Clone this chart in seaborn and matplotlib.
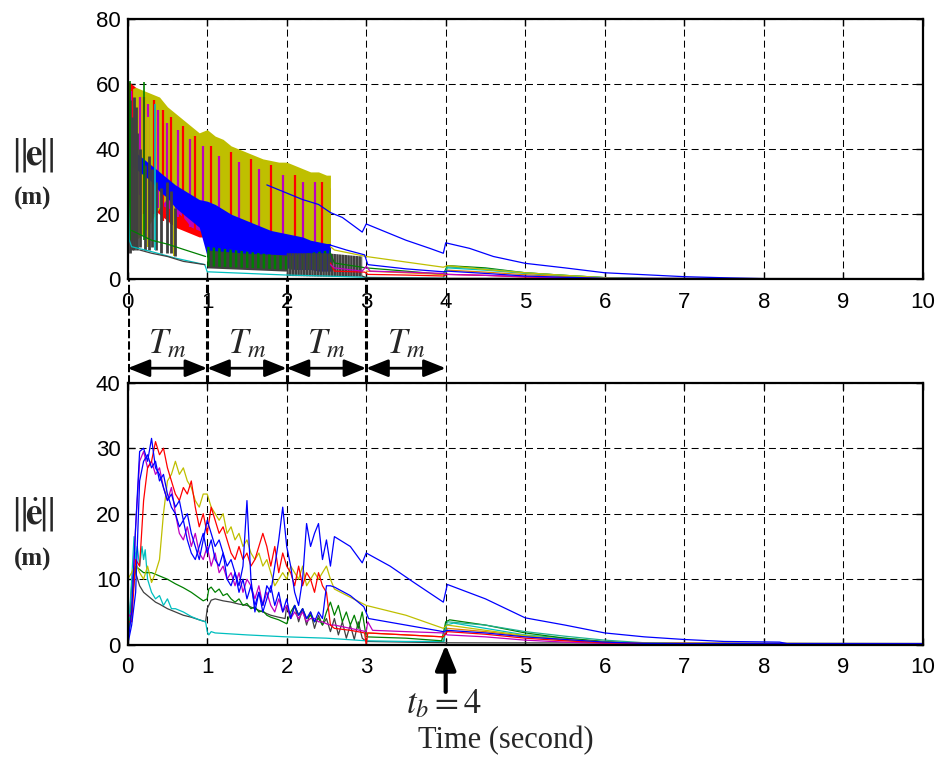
import numpy as np
import pandas as pd
import matplotlib
matplotlib.use("Agg")
import matplotlib.pyplot as plt
from matplotlib.patches import FancyArrowPatch
import seaborn as sns

# ---------------------------------------------------------------- colours
BLUE, RED, MAG = "#0000ff", "#ff0000", "#bf00bf"
YEL, GRN, CYN, GRY = "#bfbf00", "#008000", "#00bfbf", "#404040"
ORG, TEAL = "#e08000", "#20b090"

# ================================================================ TOP PANEL ||e||
BAND_T = [0.0, 0.1, 0.2, 0.3, 0.4, 0.5, 0.6, 0.7, 0.8, 0.9, 1.0, 1.1, 1.2, 1.3,
          1.4, 1.5, 1.6, 1.7, 1.8, 1.9, 2.0, 2.1, 2.2, 2.3, 2.4, 2.5, 2.55]
red_hi = [61, 59, 57, 55, 53, 50, 48, 46, 44, 43, 42, 41, 40, 39, 38, 37, 36, 35, 34, 33, 33, 32, 31, 30, 30, 29, 28]
red_lo = [30, 28, 24, 22, 20, 18, 16, 15, 14, 13, 13, 12, 11, 10, 10, 9, 9, 8, 8, 7, 7, 6, 6, 5, 5, 5, 5]
mag_hi = [59, 57, 55, 53, 51, 48, 46, 44, 42, 41, 40, 39, 38, 37, 36, 35, 34, 33, 33, 32, 31, 31, 30, 29, 29, 28, 27]
mag_lo = [28, 27, 26, 25, 23, 22, 21, 19, 16, 15, 14, 13.5, 13, 12, 11.5, 11, 10, 9, 8, 7.5, 7, 6.5, 6, 6, 5.5, 5, 5]
yel_hi = [58, 59, 58, 57, 56, 53, 51, 49, 47, 45, 46, 44, 43, 41, 40, 39, 38, 37, 36.5, 36, 36, 35, 34, 33, 33, 32, 32]
yel_lo = [12, 12, 14, 18, 22, 25, 24, 22, 21, 20, 19, 18, 17, 16, 15, 14, 14, 13, 13, 12, 12, 12, 11, 11, 11, 10, 10]
blu_hi = [41, 39, 37, 35, 33, 31, 29, 27.5, 26, 24.5, 24, 23, 21.5, 20, 19, 18, 17, 16, 15, 14.5, 14, 13.5, 13, 12, 11.5, 11, 11]
blu_lo = [36, 34, 32, 30, 27, 25, 22, 20, 18, 16, 7, 6, 6, 5.5, 5, 4.5, 4.5, 4, 4, 3.5, 3.5, 3, 3, 3, 2.5, 2.5, 2.5]

grn_band_t = [1.0, 1.5, 2.0, 2.55]
grn_band_hi = [10, 8.5, 7, 9]
grn_band_lo = [4, 3.5, 3, 3]
gry_band1_t = [1.0, 1.5, 2.0]
gry_band1_hi = [9.0, 8.0, 7.5]
gry_band1_lo = [3.5, 3.0, 2.5]
gry_band2_t = [2.0, 2.5, 2.95]
gry_band2_hi = [8, 8, 7]
gry_band2_lo = [1, 0.8, 0.8]

# individual switching spikes (time, top, bottom)
red_sp_t = [0.02, 0.06, 0.2, 0.33, 0.45, 0.55, 0.7, 0.85, 1.05, 1.3, 1.55, 1.8, 2.1, 2.45]
red_sp_top = [60, 59, 56, 55, 52, 50, 47, 44, 41, 39, 37, 35, 32, 30]
red_sp_bot = [25, 24, 20, 20, 18, 17, 16, 15, 13, 12, 11, 9, 8, 7]
mag_sp_t = [0.04, 0.15, 0.26, 0.38, 0.5, 0.63, 0.78, 0.95, 1.15, 1.4, 1.65, 1.95, 2.2, 2.35]
mag_sp_top = [58, 56, 54, 52, 48, 46, 43, 41, 38, 36, 34, 32, 30, 30]
mag_sp_bot = [28, 26, 24, 22, 20, 19, 16, 14, 13, 11, 9, 7, 6, 5]
gry_sp_t = [0.03, 0.05, 0.08, 0.1, 0.12, 0.16, 0.22, 0.27, 0.3, 0.35, 0.42, 0.5, 0.55, 0.6]
gry_sp_top = [55, 50, 56, 53, 45, 40, 35, 38, 34, 30, 28, 30, 27, 22]
gry_sp_bot = [8, 9, 9, 10, 9, 10, 9, 9, 10, 9, 8, 8, 8, 7]
yel_sp_t = [0.25, 0.58]
yel_sp_top = [50, 45]
yel_sp_bot = [10, 7]
grn_sp_t = [0.03, 0.2]
grn_sp_top = [61, 60.5]
grn_sp_bot = [12, 12]
cyn_sp_t = [0.01, 0.34]
cyn_sp_top = [33, 54]
cyn_sp_bot = [10, 9]

# smooth parts of the top-panel trajectories
e_blueA_t = [1.75, 2.0, 2.2, 2.4, 2.55, 2.7, 2.95, 3.0, 3.2, 3.5, 3.8, 3.97, 4.0, 4.3, 4.6, 5.0, 5.5, 6.0, 6.5, 7.0, 7.6, 8.0, 10.0]
e_blueA_v = [29, 26.5, 24.5, 23, 20.5, 19, 14.5, 17, 15, 12, 9.5, 8, 11.2, 9.5, 7, 4.9, 3.5, 2.0, 1.4, 0.8, 0.4, 0.2, 0.2]
e_blueB_t = [2.55, 2.75, 2.98, 3.02, 3.5, 3.97, 4.02, 4.5, 5.0, 5.5, 6.0, 10]
e_blueB_v = [10.5, 9, 7.5, 4.5, 3.2, 2.3, 2.5, 1.8, 1.0, 0.6, 0.3, 0.1]
e_yel_t = [2.55, 2.6, 3.0, 3.5, 3.97, 4.02, 4.5, 5.0, 5.5, 6.0, 6.5, 10]
e_yel_v = [10, 9, 7, 5.3, 3.7, 4.2, 3, 2, 1.2, 0.5, 0.2, 0.1]
e_red_t = [2.55, 2.6, 2.98, 3.02, 3.5, 3.97, 4.02, 4.5, 5, 6, 10]
e_red_v = [5, 2.5, 2.2, 1.5, 1.3, 1.0, 1.5, 1.2, 0.7, 0.2, 0.1]
e_mag_t = [2.55, 2.6, 2.95, 3.0, 3.05, 3.5, 3.97, 4.02, 4.5, 5, 5.5, 6, 10]
e_mag_v = [4.5, 3.5, 2.5, 4, 2.5, 2.2, 1.8, 1.5, 1.2, 0.8, 0.4, 0.2, 0.1]
e_grnA_t = [0.05, 0.3, 0.5, 0.7, 0.98]
e_grnA_v = [15, 12, 10.8, 9.2, 7]
e_grnB_t = [2.55, 2.6, 3.0, 3.5, 3.97, 4.02, 4.5, 5.0, 5.5, 6.0, 6.5, 10]
e_grnB_v = [8, 5, 3.5, 2.5, 1.5, 4.2, 3.5, 2.0, 1.2, 0.5, 0.2, 0.1]
e_cyn_t = [0.0, 0.02, 0.05, 0.3, 0.6, 0.97, 1.0, 1.5, 2.0, 2.5, 3.0, 3.97, 4.02, 4.5, 5.0, 5.5, 6.0, 6.5, 10]
e_cyn_v = [33, 12, 10, 8.5, 6.5, 4.5, 2.3, 1.8, 1.3, 1.0, 0.6, 0.3, 3.5, 2.8, 1.8, 1.0, 0.5, 0.2, 0.1]
e_gryA_t = [0.15, 0.3, 0.5, 0.7, 0.97]
e_gryA_v = [9, 8, 7, 5.5, 4.5]
e_gryB_t = [2.95, 3.0, 4.0, 10]
e_gryB_v = [1, 0.5, 0.3, 0.2]
e_org_t = [3.0, 3.5, 3.97, 4.02, 4.5, 5.0, 5.5, 6.0, 10]
e_org_v = [2.5, 2.0, 1.5, 2.8, 2.2, 1.4, 0.8, 0.3, 0.1]
e_teal_t = [3.97, 4.02, 4.5, 5.0, 5.5, 6.0, 6.5, 10]
e_teal_v = [0.5, 3.8, 3.2, 2.0, 1.2, 0.5, 0.2, 0.1]

# ================================================================ BOTTOM PANEL ||e_dot||
T05 = [round(0.05 * i, 2) for i in range(52)]   # 0.00 ... 2.55
d_blueA = [0, 5, 18, 29.5, 30, 28, 31.5, 27, 26, 24, 22, 23, 21, 22, 19, 20, 17, 15, 13, 16,
           19, 17, 15, 16, 14, 12, 13, 11, 9, 12, 22, 10, 5, 8, 6, 9, 8, 12, 16, 21,
           15, 12, 8, 6, 10, 18.5, 15, 17, 18.5, 13, 16, 12]
d_blueA_tail_t = [2.6, 2.8, 2.95, 3.0, 3.3, 3.6, 3.97, 4.02, 4.5, 5.0, 5.5, 6.0, 6.5, 7.0, 7.5, 8.2, 8.3, 10]
d_blueA_tail_v = [16.5, 15, 12.5, 14, 12, 9.5, 6.5, 9.2, 7, 4.1, 3, 1.8, 1.2, 0.8, 0.5, 0.4, 0.15, 0.15]
d_blueB = [0, 3, 8, 25, 28, 29, 27, 28, 25, 26, 23, 21, 20, 18, 19, 16, 14, 13, 15, 17,
           14, 16, 13, 12, 14, 10, 9, 11, 8, 10, 7, 9, 6, 8, 5, 7, 9, 6, 8, 5,
           7, 4, 6, 4.5, 5.5, 4, 5, 3.5, 5, 4, 9, 9]
d_blueB_tail_t = [2.6, 2.8, 2.97, 3.03, 3.5, 3.97, 4.02, 4.5, 5.0, 5.5, 6.0, 6.5, 10]
d_blueB_tail_v = [8.8, 7.5, 5.8, 4, 3, 2, 2.2, 1.8, 1.2, 0.8, 0.4, 0.2, 0.1]
d_red = [3.5, 3.5, 13, 12, 22, 27, 28, 31, 29, 30, 27, 25, 23, 22, 24, 23, 25, 21, 18, 20,
         17, 21, 19, 17, 18, 16, 14, 13, 15, 13, 14, 12, 13, 15, 17, 15, 12, 15, 11, 14,
         12, 11, 9, 12, 9, 11, 10, 8, 11, 9, 8, 3]
d_red_tail_t = [2.6, 2.8, 2.98, 3.0, 3.02, 3.5, 3.97, 4.02, 4.5, 5.0, 5.5, 6.0, 7.0, 10]
d_red_tail_v = [2.5, 2.2, 1.8, 0, 1.8, 1.5, 1.2, 2.0, 1.6, 1.0, 0.6, 0.3, 0.1, 0.1]
d_mag = [4, 5, 18, 28, 29.5, 27, 28, 26, 27, 24, 22, 24, 20, 17, 16, 18, 15, 17, 14, 13,
         15, 12, 14, 11, 12, 10, 11, 9, 11, 8, 10, 9, 7, 9, 6, 8, 6, 5, 7, 5,
         6, 4, 5, 4, 5, 3.5, 4, 4, 3.5, 3.5, 3.2, 3]
d_mag_tail_t = [2.6, 3.0, 3.02, 3.08, 3.5, 3.97, 4.02, 4.5, 5.0, 5.5, 6.0, 10]
d_mag_tail_v = [3, 2, 3.5, 2.2, 2, 1.8, 1.5, 1.2, 0.7, 0.4, 0.2, 0.1]
d_yel = [10, 11, 12.5, 11, 10, 12, 9.5, 11, 13, 20, 25, 26, 28, 26, 27, 25, 24, 22, 21, 23,
         23, 21, 20, 19, 20, 17, 18, 16, 17, 15, 16, 14, 13, 14, 12, 13, 11, 9, 10, 11,
         10, 12, 11, 10, 12, 9, 10, 11, 10, 11, 12, 10]
d_yel_tail_t = [2.6, 3.0, 3.5, 3.97, 4.02, 4.5, 5.0, 5.5, 6.0, 6.5, 10]
d_yel_tail_v = [8.5, 6, 4.5, 2.5, 3.0, 2.2, 1.4, 0.8, 0.4, 0.2, 0.1]
d_grn_t = [0, 0.05, 0.1, 0.15, 0.2, 0.3, 0.4, 0.5, 0.6, 0.7, 0.8, 0.95, 1.0, 1.02, 1.05, 1.1, 1.15,
           1.2, 1.25, 1.3, 1.35, 1.4, 1.45, 1.5, 1.55, 1.6, 1.65, 1.7, 1.75, 1.8, 1.9, 2.0, 2.05,
           2.1, 2.15, 2.2, 2.25, 2.3, 2.35, 2.4, 2.45, 2.5, 2.55, 2.6, 2.65, 2.7, 2.75, 2.8, 2.85,
           2.9, 2.95, 3.0, 3.5, 3.95, 4.0, 4.05, 4.5, 5.0, 5.5, 6.0, 6.5, 7.0, 10]
d_grn_v = [0, 6, 12, 11.5, 11, 11, 10.5, 10, 9.3, 8.7, 8, 6.7, 7, 8.5, 8.8, 8, 8.5,
           7.5, 7.8, 7, 6.5, 7, 6, 6.3, 5.5, 5.8, 5, 5.2, 4.5, 4.2, 3.8, 3.2, 5,
           6, 4.5, 5.5, 4, 4.5, 3.5, 4, 3, 5, 6.5, 4.5, 6, 3.5, 5, 3, 4.5,
           2.5, 5, 1.2, 1, 0.6, 3.5, 3.8, 3, 1.8, 1, 0.5, 0.2, 0.1, 0.1]
d_cyn_t = [0, 0.05, 0.08, 0.1, 0.12, 0.15, 0.18, 0.2, 0.22, 0.25, 0.3, 0.35, 0.4, 0.45, 0.5, 0.55,
           0.6, 0.7, 0.8, 0.9, 0.98, 1.0, 1.02, 1.05, 1.1, 1.5, 2.0, 2.5, 3.0, 3.5, 3.98, 4.0,
           4.1, 4.5, 5, 5.5, 6, 6.5, 10]
d_cyn_v = [0, 10, 16.5, 13, 15, 12, 15, 13, 14.5, 10, 8, 7, 7.5, 6, 7, 5.5,
           5.5, 5, 4.3, 3.8, 3.5, 2, 1.5, 2, 1.8, 1.5, 1.2, 1, 0.6, 0.5, 0.5, 3.0,
           3.3, 2.5, 1.5, 1, 0.4, 0.1, 0.1]
d_gry_t = [0, 0.05, 0.08, 0.1, 0.15, 0.2, 0.25, 0.3, 0.35, 0.4, 0.5, 0.6, 0.7, 0.8, 0.9, 0.98,
           1.0, 1.05, 1.1, 1.2, 1.3, 1.4, 1.5, 1.6, 1.7, 1.8, 1.9, 1.98, 2.0, 2.05, 2.1, 2.15,
           2.2, 2.25, 2.3, 2.35, 2.4, 2.45, 2.5, 2.55, 2.6, 2.65, 2.7, 2.75, 2.8, 2.85, 2.9, 2.95,
           3.0, 4.0, 10]
d_gry_v = [0, 9, 12, 11, 9, 8, 7.5, 7, 6.5, 6.2, 5.5, 5, 4.5, 4.2, 3.8, 3.5,
           5.5, 6.8, 7, 6.7, 6.5, 6.2, 6, 5.5, 5, 4.5, 4.2, 4, 6, 4, 6, 3.5,
           5.5, 3, 5, 2.5, 4.5, 3, 4, 2, 4, 1.5, 3.5, 1, 3, 0.8, 3.5, 1,
           0.5, 0.3, 0.2]
d_org_t = [3.0, 3.5, 3.97, 4.02, 4.5, 5.0, 5.5, 6.0, 10]
d_org_v = [1.8, 1.5, 1.2, 2.5, 2.0, 1.3, 0.7, 0.3, 0.1]
d_teal_t = [3.97, 4.02, 4.5, 5.0, 5.5, 6.0, 6.5, 7.0, 10]
d_teal_v = [0.5, 3.5, 3.0, 2.0, 1.3, 0.7, 0.3, 0.15, 0.1]

X_TICKS = list(range(11))
E_TICKS = [0, 20, 40, 60, 80]
ED_TICKS = [0, 10, 20, 30, 40]


def long_df(series):
    parts = [pd.DataFrame({"name": n, "t": t, "v": v}) for n, (t, v, c) in series.items()]
    return pd.concat(parts, ignore_index=True)


top_series = {
    "grnA": (e_grnA_t, e_grnA_v, GRN), "grnB": (e_grnB_t, e_grnB_v, GRN),
    "cyn": (e_cyn_t, e_cyn_v, CYN), "gryA": (e_gryA_t, e_gryA_v, GRY),
    "gryB": (e_gryB_t, e_gryB_v, GRY), "org": (e_org_t, e_org_v, ORG),
    "teal": (e_teal_t, e_teal_v, TEAL), "red": (e_red_t, e_red_v, RED),
    "mag": (e_mag_t, e_mag_v, MAG), "yel": (e_yel_t, e_yel_v, YEL),
    "blueB": (e_blueB_t, e_blueB_v, BLUE), "blueA": (e_blueA_t, e_blueA_v, BLUE),
}
bot_series = {
    "gry": (d_gry_t, d_gry_v, GRY), "cyn": (d_cyn_t, d_cyn_v, CYN),
    "grn": (d_grn_t, d_grn_v, GRN), "org": (d_org_t, d_org_v, ORG),
    "teal": (d_teal_t, d_teal_v, TEAL),
    "yel": (T05 + d_yel_tail_t, d_yel + d_yel_tail_v, YEL),
    "mag": (T05 + d_mag_tail_t, d_mag + d_mag_tail_v, MAG),
    "red": (T05 + d_red_tail_t, d_red + d_red_tail_v, RED),
    "blueB": (T05 + d_blueB_tail_t, d_blueB + d_blueB_tail_v, BLUE),
    "blueA": (T05 + d_blueA_tail_t, d_blueA + d_blueA_tail_v, BLUE),
}

# ---------------------------------------------------------------- style
sns.set_theme(style="white")
plt.rcParams["font.family"] = ["Liberation Sans", "DejaVu Sans"]
plt.rcParams["mathtext.fontset"] = "stix"
plt.rcParams["hatch.linewidth"] = 1.8

fig = plt.figure(figsize=(9.41, 7.62), dpi=100)
L, W = 0.1357, 0.8449
ax1 = fig.add_axes([L, 0.6335, W, 0.3416])
ax2 = fig.add_axes([L, 0.1539, W, 0.3439])

GRID_DASH = (0, (6.7, 3.9))


def style_axis(ax, yticks):
    ax.set_xlim(0, 10)
    ax.set_ylim(yticks[0], yticks[-1])
    ax.set_xticks(X_TICKS)
    ax.set_yticks(yticks)
    ax.set_axisbelow(True)
    ax.grid(True, color="black", linestyle=GRID_DASH, linewidth=0.75)
    for s in ax.spines.values():
        s.set_color("black")
        s.set_linewidth(1.6)
    ax.tick_params(direction="in", length=5, width=1, labelsize=16, colors="black",
                   bottom=True, left=True, top=True, right=True)
    ax.tick_params(axis="x", pad=9)
    ax.tick_params(axis="y", pad=5)
    ax.set_xlabel("")
    ax.set_ylabel("")
    ax.set_facecolor("white")


# ---- top panel: switching bands and spikes
ax1.fill_between(BAND_T, red_lo, red_hi, color=RED, lw=0, zorder=1.0)
ax1.fill_between(BAND_T, mag_lo, mag_hi, color=MAG, lw=0, zorder=1.1)
ax1.fill_between(BAND_T, yel_lo, yel_hi, color=YEL, lw=0, zorder=1.2)
ax1.vlines(red_sp_t, red_sp_bot, red_sp_top, color=RED, lw=1.6, zorder=1.3)
ax1.vlines(mag_sp_t, mag_sp_bot, mag_sp_top, color=MAG, lw=1.6, zorder=1.3)
ax1.vlines(yel_sp_t, yel_sp_bot, yel_sp_top, color=YEL, lw=1.4, zorder=1.3)
ax1.fill_between(BAND_T, blu_lo, blu_hi, color=BLUE, lw=0, zorder=1.4)
ax1.fill_between(gry_band1_t, gry_band1_lo, gry_band1_hi, color=GRY, lw=0, zorder=1.45)
ax1.fill_between(grn_band_t, grn_band_lo, grn_band_hi, facecolor="none", edgecolor=GRN,
                 hatch="|||", lw=0, zorder=1.5)
ax1.fill_between(gry_band2_t, gry_band2_lo, gry_band2_hi, facecolor="none", edgecolor=GRY,
                 hatch="||||||", lw=0, zorder=1.6)
ax1.vlines(gry_sp_t, gry_sp_bot, gry_sp_top, color=GRY, lw=2.0, zorder=1.7)
ax1.vlines(grn_sp_t, grn_sp_bot, grn_sp_top, color=GRN, lw=1.2, zorder=1.8)
ax1.vlines(cyn_sp_t, cyn_sp_bot, cyn_sp_top, color=CYN, lw=1.2, zorder=1.8)

df1 = long_df(top_series)
sns.lineplot(data=df1, x="t", y="v", hue="name", hue_order=list(top_series),
             palette={k: c for k, (_, _, c) in top_series.items()},
             estimator=None, sort=False, legend=False, linewidth=0.9, ax=ax1)
style_axis(ax1, E_TICKS)

# ---- bottom panel
df2 = long_df(bot_series)
sns.lineplot(data=df2, x="t", y="v", hue="name", hue_order=list(bot_series),
             palette={k: c for k, (_, _, c) in bot_series.items()},
             estimator=None, sort=False, legend=False, linewidth=0.9, ax=ax2)
style_axis(ax2, ED_TICKS)

# ---- y labels
serif = ["Liberation Serif", "DejaVu Serif"]
fig.text(0.034, 0.797, r"$\Vert\!\mathbf{e}\!\Vert$", fontsize=27, ha="center", va="center")
fig.text(0.035, 0.739, "(m)", fontsize=18, fontweight="bold", family=serif, ha="center", va="center")
fig.text(0.034, 0.325, r"$\Vert\!\dot{\mathbf{e}}\!\Vert$", fontsize=27, ha="center", va="center")
fig.text(0.035, 0.266, "(m)", fontsize=18, fontweight="bold", family=serif, ha="center", va="center")

# ---- T_m annotations between the panels
gap = fig.add_axes([L, 0.4978, W, 0.6335 - 0.4978])
gap.set_xlim(0, 10)
gap.set_ylim(0, 1)
gap.axis("off")
gap.patch.set_alpha(0)
for k in range(4):
    gap.plot([k, k], [0, 1], color="black", lw=2.2, linestyle=(0, (2.7, 1.0)))
gap.plot([4, 4], [0, 1], color="black", lw=0.75, linestyle=GRID_DASH)
for k in range(4):
    gap.add_patch(FancyArrowPatch((k, 0.14), (k + 1, 0.14),
                                  arrowstyle="<|-|>,head_length=0.95,head_width=0.38",
                                  mutation_scale=14, lw=2, color="black",
                                  shrinkA=0, shrinkB=0))
    gap.text(k + 0.5, 0.38, r"$T_m$", fontsize=25, ha="center", va="center")

# ---- t_b arrow and axis title
ax2.annotate("", xy=(4, 0), xycoords=("data", "axes fraction"),
             xytext=(4, -0.18), textcoords=("data", "axes fraction"),
             arrowprops=dict(arrowstyle="-|>,head_length=1.1,head_width=0.45",
                             lw=3, color="black", mutation_scale=14,
                             shrinkA=0, shrinkB=0),
             annotation_clip=False)
fig.text(0.472, 0.077, r"$t_b = 4$", fontsize=25, ha="center", va="center")
fig.text(0.537, 0.028, "Time (second)", fontsize=22, family=serif, ha="center", va="center")

fig.savefig("out.png", dpi=100)
